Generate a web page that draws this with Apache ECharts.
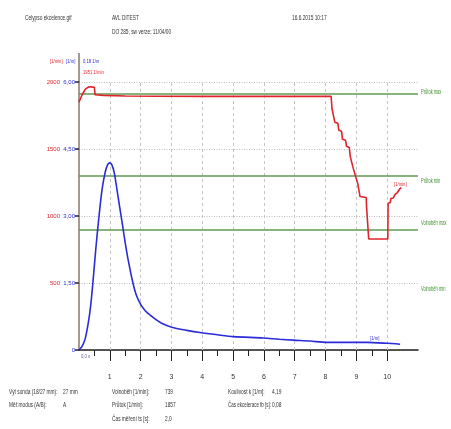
<!DOCTYPE html>
<html lang="cs">
<head>
<meta charset="UTF-8">
<title>Celypso ekcelence</title>
<style>
  html, body { margin: 0; padding: 0; background: #fff; }
  #chart { width: 451px; height: 429px; }
</style>
</head>
<body>
<div id="chart"></div>
<script src="https://cdn.jsdelivr.net/npm/echarts@6/dist/echarts.min.js"></script>
<script>
// otacky [1/min] - cas [s]
var rpmData = [
  [0, 1850], [0.1, 1905], [0.2, 1945], [0.3, 1962], [0.38, 1965], [0.5, 1960], [0.52, 1905],
  [0.8, 1900], [1.5, 1896], [2.5, 1894], [4, 1893], [6, 1893], [8.18, 1893],
  [8.21, 1800], [8.27, 1792], [8.3, 1700], [8.4, 1692], [8.43, 1640], [8.52, 1632],
  [8.55, 1572], [8.65, 1565], [8.68, 1520], [8.77, 1512], [8.8, 1447], [8.86, 1440],
  [8.88, 1372], [8.94, 1365], [8.96, 1307], [9.02, 1300], [9.04, 1247], [9.1, 1240],
  [9.12, 1145], [9.32, 1138], [9.33, 1072], [9.39, 1070], [9.4, 828], [10.02, 828],
  [10.03, 1095], [10.1, 1100], [10.12, 1130], [10.2, 1135], [10.25, 1160], [10.33, 1175],
  [10.4, 1200], [10.46, 1212]
];
// koulivost [1/m] - cas [s]
var smokeData = [
  [0, 0], [0.1, 0.08], [0.2, 0.25], [0.3, 0.6], [0.38, 1.0], [0.45, 1.5], [0.55, 2.3],
  [0.65, 3.0], [0.75, 3.6], [0.85, 3.98], [0.93, 4.15], [1.0, 4.19], [1.07, 4.14],
  [1.15, 3.95], [1.23, 3.6], [1.32, 3.2], [1.4, 2.85], [1.5, 2.4], [1.6, 2.0],
  [1.75, 1.5], [1.85, 1.25], [2.0, 1.02], [2.15, 0.88], [2.31, 0.78], [2.5, 0.68],
  [2.68, 0.6], [3.01, 0.51], [3.5, 0.44], [3.93, 0.39], [4.5, 0.34], [5.01, 0.3],
  [5.98, 0.27], [6.5, 0.24], [6.96, 0.22], [7.5, 0.2], [8.04, 0.17], [9.0, 0.17],
  [9.34, 0.17], [9.99, 0.15], [10.42, 0.13]
];
// meze
var limitNames = ['Průtok max', 'Průtok min', 'Volnoběh max'];
var limitValues = [1910, 1300, 900];
var secondTicks = [1, 2, 3, 4, 5, 6, 7, 8, 9, 10];
var halfTicks = [0.5, 1.5, 2.5, 3.5, 4.5, 5.5, 6.5, 7.5, 8.5, 9.5];

var FONT = '"Liberation Sans", Arial, sans-serif';
var RED = '#e0242a', BLUE = '#2b2bd8', GREEN = '#5f9a52', GREENTXT = '#3f8f2f';

// uzky text - skalovany vodorovne
function txt(x, y, s, color, size, sx) {
  return {
    type: 'text', left: x, top: y, scaleX: sx || 0.6,
    style: { text: s, fill: color || '#333', font: (size || 8) + 'px ' + FONT }
  };
}

var chart = echarts.init(document.getElementById('chart'));
chart.setOption({
  animation: false,
  backgroundColor: '#fff',
  textStyle: { fontFamily: FONT },
  grid: { left: 79, top: 82, width: 339, height: 268 },
  xAxis: [{
    type: 'value', min: 0, max: 11, interval: 1,
    axisLine: { lineStyle: { color: '#222', width: 1.5 } },
    axisTick: { customValues: secondTicks, length: 11, lineStyle: { color: '#222' } },
    axisLabel: { customValues: secondTicks, color: '#333', fontSize: 7, margin: 24 },
    splitLine: { show: false }
  }, {
    type: 'value', min: 0, max: 11, position: 'bottom',
    axisLine: { show: false },
    axisTick: { customValues: halfTicks, length: 6, lineStyle: { color: '#222' } },
    axisLabel: { show: false },
    splitLine: { show: false }
  }],
  yAxis: [{
    type: 'value', min: 0, max: 2000, interval: 500, position: 'left', offset: 17,
    axisLine: { show: false }, axisTick: { show: false },
    axisLabel: { color: RED, fontSize: 6, margin: 2, formatter: function (v) { return v === 0 ? '' : v; } },
    splitLine: { show: true, lineStyle: { color: '#bdbdbd', type: [1, 1.5], width: 1.2 } }
  }, {
    type: 'value', min: 0, max: 6, interval: 1.5, position: 'left',
    axisLine: { show: true, lineStyle: { color: '#8a766c', width: 1.5 } },
    axisTick: { show: true, length: 4, lineStyle: { color: '#222', width: 1.5 } },
    axisLabel: { color: BLUE, fontSize: 6, margin: 4,
      formatter: function (v) { return v === 0 ? '0' : v.toFixed(2).replace('.', ','); } },
    splitLine: { show: false }
  }],
  series: [{
    name: 'grid', type: 'line', data: [], xAxisIndex: 0, yAxisIndex: 0,
    markLine: {
      silent: true, symbol: 'none', label: { show: false },
      lineStyle: { color: '#c4c4c4', type: [3, 3], width: 1 },
      data: secondTicks.map(function (s) { return { xAxis: s }; })
    }
  }, {
    name: 'limits', type: 'line', data: [], xAxisIndex: 0, yAxisIndex: 0,
    markLine: {
      silent: true, symbol: 'none', label: { show: false },
      lineStyle: { color: GREEN, type: 'solid', width: 1.5 },
      data: limitValues.map(function (v, i) { return { yAxis: v, name: limitNames[i] }; })
    }
  }, {
    name: 'Otáčky', type: 'line', data: rpmData, xAxisIndex: 0, yAxisIndex: 0,
    showSymbol: false, lineStyle: { color: RED, width: 1.6 }, z: 5
  }, {
    name: 'Koulivost', type: 'line', data: smokeData, xAxisIndex: 0, yAxisIndex: 1,
    showSymbol: false, smooth: 0.25, lineStyle: { color: BLUE, width: 1.6 }, z: 5
  }],
  graphic: [
    { type: 'line', shape: { x1: 79, y1: 53, x2: 79, y2: 82 }, style: { stroke: '#8a766c', lineWidth: 1.5 } },
    txt(25, 14, 'Celypso ekcelence.gif'),
    txt(112, 14, 'AVL DiTEST'),
    txt(112, 28, 'DO 285, sw verze: 11/04/00'),
    txt(292, 14, '16.6.2015 10:17'),
    txt(50, 58, '[1/min]', RED, 6, 0.7),
    txt(66, 58, '[1/m]', BLUE, 6, 0.7),
    txt(83, 58, '0,18 1/m', BLUE, 6, 0.7),
    txt(83, 69, '1951 1/min', RED, 6, 0.7),
    txt(81, 353, '0,0 s', '#66669a', 6, 0.7),
    txt(370, 335, '[1/m]', BLUE, 6, 0.7),
    txt(394, 181, '[1/min]', RED, 6, 0.7),
    txt(421, 89, limitNames[0], GREENTXT, 6.5, 0.62),
    txt(421, 178, limitNames[1], GREENTXT, 6.5, 0.62),
    txt(421, 220, limitNames[2], GREENTXT, 6.5, 0.62),
    txt(421, 286, 'Volnoběh min', GREENTXT, 6.5, 0.62),
    txt(9, 388, 'Výt sonda (18/27 mm):'),
    txt(63, 388, '27 mm'),
    txt(9, 401, 'Měř.modus (A/B):'),
    txt(63, 401, 'A'),
    txt(112, 388, 'Volnoběh [1/min]:'),
    txt(165, 388, '739'),
    txt(112, 401, 'Průtok [1/min]:'),
    txt(165, 401, '1857'),
    txt(112, 415, 'Čas měření ts [s]:'),
    txt(165, 415, '2,0'),
    txt(228, 388, 'Koulivost k [1/m]:'),
    txt(272, 388, '4,19'),
    txt(228, 401, 'Čas ekcelerace tb [s]:', '#333', 8, 0.56),
    txt(272, 401, '0,08')
  ]
});
</script>
</body>
</html>
